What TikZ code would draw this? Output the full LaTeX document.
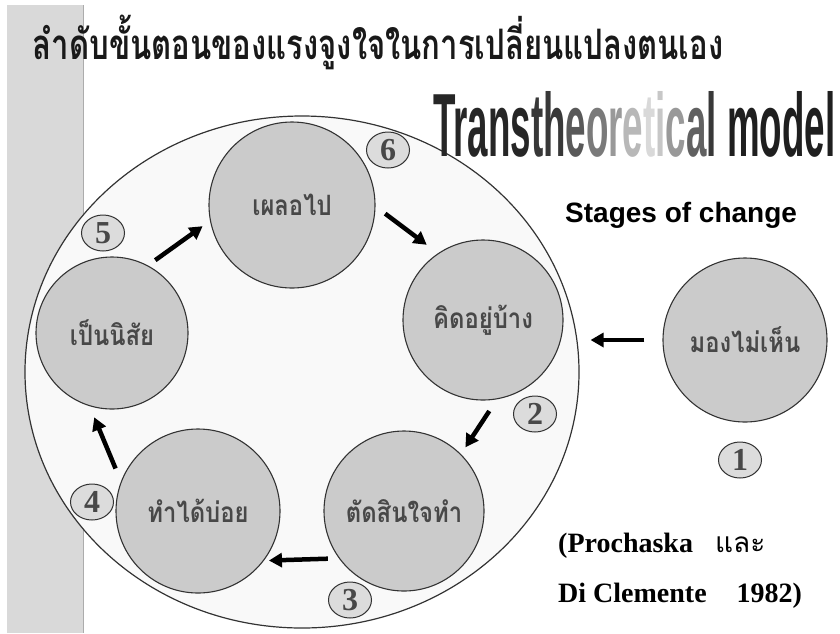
\documentclass[tikz,border=0pt]{standalone}
\usepackage{fontspec}
\setmainfont{Liberation Serif}
\newfontfamily\thaifont[Script=Thai]{Loma}
\newfontfamily\thaicond[Script=Thai,FakeStretch=0.85]{Loma}
\newfontfamily\thaititle[Script=Thai,FakeStretch=0.74]{Loma}
\newfontfamily\arialfont{Liberation Sans}
\usetikzlibrary{arrows.meta,shapes.geometric}

\definecolor{stripgray}{HTML}{D9D9D9}
\definecolor{ringfill}{HTML}{F9F9F9}
\definecolor{stagefill}{HTML}{CBCBCB}
\definecolor{numfill}{HTML}{DCDCDC}
\definecolor{edgegray}{HTML}{333333}
\definecolor{labelgray}{HTML}{484848}

\begin{document}
\begin{tikzpicture}[
        x=1pt, y=-1pt,
        stage/.style={circle, draw=edgegray, line width=1.1pt, fill=stagefill, inner sep=0pt,
                      minimum size=#1, font=\thaicond\bfseries\fontsize{28}{28}\selectfont, text=labelgray},
        stepnum/.style={ellipse, draw=edgegray, line width=1pt, fill=numfill, inner sep=0pt,
                        minimum width=43pt, minimum height=36pt,
                        font=\bfseries\fontsize{32}{32}\selectfont, text=labelgray},
        flow/.style={line width=4.5pt, -{Triangle[length=13pt,width=14pt]}},
        ring/.style={draw=edgegray, line width=1.2pt, fill=ringfill},
        source/.style={anchor=base west, inner sep=0pt, font=\bfseries\fontsize{28}{28}\selectfont}
    ]
    \useasboundingbox (0,0) rectangle (840,633);

    % --- Background strip and outer ring ---
    \fill[stripgray] (7,5) rectangle (83,633);
    \draw[gray!65, line width=1pt] (83,5) -- (83,633);
    \draw[ring] (302,372) ellipse [x radius=277pt, y radius=256pt];

    % --- Titles ---
    \node[font=\thaititle\bfseries\fontsize{42}{42}\selectfont, text=black!90] (title) at (378,42)
        {ลำดับขั้นตอนของแรงจูงใจในการเปลี่ยนแปลงตนเอง};
    \node[anchor=south west, inner sep=0pt] (model) at (433,158)
        {\resizebox{402pt}{65pt}{\arialfont\bfseries
         \textcolor{black!85}{Trans}\textcolor{black!78}{th}\textcolor{black!65}{e}\textcolor{black!52}{o}%
         \textcolor{black!40}{r}\textcolor{black!28}{e}\textcolor{black!15}{t}\textcolor{black!22}{i}%
         \textcolor{black!40}{c}\textcolor{black!62}{a}\textcolor{black!78}{l}\ \textcolor{black!88}{model}}};
    \node[anchor=base west, inner sep=0pt, font=\arialfont\bfseries\fontsize{28}{28}\selectfont] (stages) at (565,222)
        {Stages of change};

    % --- Stages (clockwise from the top) ---
    \node[stage=166pt] (phloe) at (292,205) {เผลอไป};
    \node[stage=160pt] (khit)  at (483,320) {คิดอยู่บ้าง};
    \node[stage=160pt] (tat)   at (404,511) {ตัดสินใจทำ};
    \node[stage=164pt] (tham)  at (198,511) {ทำได้บ่อย};
    \node[stage=152pt] (nisai) at (112,333) {เป็นนิสัย};
    \node[stage=164pt] (mong)  at (745,340) {มองไม่เห็น};

    % --- Step numbers ---
    \node[stepnum] (n1) at (740,460) {1};
    \node[stepnum] (n2) at (535,414) {2};
    \node[stepnum] (n3) at (350,600) {3};
    \node[stepnum] (n4) at (92,502)  {4};
    \node[stepnum] (n5) at (103,233) {5};
    \node[stepnum] (n6) at (388,150) {6};

    % --- Arrows between stages ---
    \draw[flow, shorten <=18pt, shorten >=27pt] (mong.west) -- (mong.west -| khit.east);
    \draw[flow, shorten <=14pt, shorten >=8pt]  (khit.-80) -- (tat.45);
    \draw[flow, shorten <=11pt, shorten >=5pt]  (tat.216) -- (tham.-37);
    \draw[flow, shorten <=14pt, shorten >=12pt] (tham.159) -- (nisai.-107);
    \draw[flow, shorten <=9pt, shorten >=9pt]   (nisai.62) -- (phloe.191);
    \draw[flow, shorten <=12pt, shorten >=14pt] (phloe.-1) -- (khit.124);

    % --- Source ---
    \node[source] (src1) at (558,552) {(Prochaska\hspace{22pt}{\thaifont\mdseries และ}};
    \node[source] (src2) at (558,602) {Di Clemente\hspace{30pt}1982)};
\end{tikzpicture}
\end{document}
